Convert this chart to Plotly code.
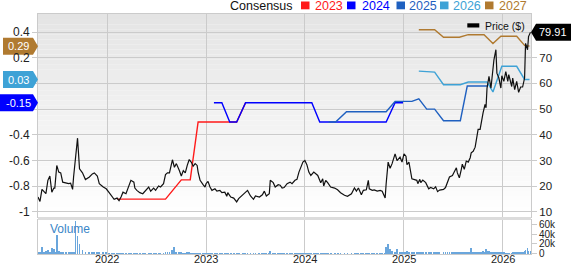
import datetime as dt
import plotly.graph_objects as go

# ---------------- data ----------------
price_t = [
 2021.30,2021.32,2021.34,2021.36,2021.38,2021.40,2021.42,2021.44,2021.46,2021.47,
 2021.49,2021.51,2021.53,2021.55,2021.58,2021.61,2021.63,2021.65,2021.66,2021.68,
 2021.70,2021.72,2021.75,2021.78,2021.82,2021.85,2021.87,2021.90,2021.92,2021.96,
 2021.99,2022.02,2022.05,2022.07,2022.10,2022.12,2022.14,2022.16,2022.19,2022.22,
 2022.24,2022.27,2022.28,
 2022.30,2022.33,2022.36,2022.38,2022.42,2022.44,2022.47,2022.49,2022.52,2022.54,
 2022.57,2022.59,2022.61,2022.63,2022.65,2022.66,2022.68,2022.70,2022.73,2022.75,
 2022.77,2022.79,2022.81,2022.83,2022.85,2022.87,2022.89,2022.91,2022.92,2022.94,
 2022.97,2022.99,2023.00,2023.02,2023.04,2023.06,2023.09,2023.11,2023.14,2023.16,
 2023.19,2023.21,2023.22,
 2023.25,2023.28,2023.31,2023.33,2023.37,2023.39,2023.42,2023.45,2023.48,2023.50,
 2023.54,2023.57,2023.59,2023.61,2023.64,2023.65,2023.68,2023.70,2023.73,2023.75,
 2023.77,2023.79,2023.82,2023.85,2023.87,2023.90,2023.92,2023.94,2023.96,2023.98,
 2024.00,2024.02,2024.04,2024.06,2024.09,2024.11,2024.13,
 2024.16,2024.18,2024.19,2024.21,2024.23,2024.26,2024.30,2024.33,2024.36,2024.40,
 2024.43,2024.47,2024.50,2024.52,2024.54,2024.57,2024.59,2024.62,2024.64,2024.65,
 2024.68,2024.70,2024.73,2024.76,2024.78,2024.81,2024.82,2024.84,2024.86,2024.88,
 2024.91,2024.93,2024.96,2024.98,2025.00,2025.02,2025.03,2025.05,2025.08,2025.10,
 2025.13,2025.14,2025.16,
 2025.17,2025.19,2025.22,2025.25,2025.27,2025.30,2025.32,2025.34,2025.36,2025.40,
 2025.42,2025.44,2025.46,2025.49,2025.51,2025.53,2025.54,2025.56,2025.58,2025.59,
 2025.61,2025.63,2025.65,2025.67,2025.68,2025.70,2025.72,2025.73,2025.75,2025.77,
 2025.78,2025.80,2025.82,2025.83,2025.84,2025.86,2025.88,2025.90,2025.91,2025.93,
 2025.94,2025.96,2025.98,2025.99,2026.01,2026.03,2026.05,2026.06,2026.09,2026.10,
 2026.12,2026.14,2026.16,2026.18,2026.20,2026.22,2026.23,2026.25,2026.26,2026.28,
]
price = [
 15.8,14.1,18.8,17.7,17.1,22.3,24.0,17.7,19.3,19.3,
 28.1,25.5,25.2,21.6,21.4,21.0,21.2,18.8,23.6,31.3,
 38.7,26.8,25.2,22.6,23.6,24.8,25.2,24.0,21.0,19.7,
 19.0,17.5,15.8,14.9,15.4,14.4,15.8,17.7,17.1,20.6,
 22.3,21.6,19.3,
 18.4,17.5,17.1,18.1,19.7,18.1,19.3,18.4,20.1,19.7,
 21.0,24.5,25.2,25.2,28.8,30.3,27.4,28.8,26.1,24.0,
 26.1,25.2,28.1,30.4,29.4,27.8,28.8,28.1,25.5,22.3,
 20.6,19.7,21.0,21.9,19.7,18.4,19.0,18.1,18.4,17.5,
 17.7,16.1,17.5,
 15.8,15.4,13.9,15.2,16.5,17.1,18.4,16.2,14.9,16.2,
 15.8,16.7,18.1,16.2,17.1,22.3,21.4,19.7,20.6,20.4,
 19.3,19.5,21.0,21.6,21.0,22.3,22.7,25.5,27.8,29.4,
 30.0,28.4,25.5,24.2,25.5,24.8,24.2,
 21.4,22.9,20.1,22.3,21.4,19.7,19.3,18.6,17.5,16.5,
 16.1,17.1,19.3,18.1,19.3,16.7,18.4,18.6,22.3,19.0,
 18.4,18.6,18.1,18.4,18.1,15.4,21.0,29.4,27.0,28.8,
 32.6,30.0,31.3,29.4,32.6,31.7,28.4,29.4,22.9,22.7,
 22.3,21.0,22.7,
 21.4,22.4,21.4,19.0,19.5,19.0,19.8,17.9,18.5,18.8,
 19.5,22.0,23.6,24.2,25.9,27.2,25.2,23.3,26.6,28.6,
 26.6,29.8,29.4,31.1,33.0,33.6,35.2,38.2,42.1,42.1,
 44.6,48.5,51.8,50.5,58.2,62.7,58.2,64.6,69.2,73.1,
 64.0,62.1,58.2,63.0,60.8,64.6,60.8,63.4,58.8,62.1,
 57.6,60.8,56.5,58.6,58.6,62.1,75.6,73.1,78.2,79.91,
]
volume_k = [
 4,3,14,4,5,7,4,12,9,4,
 38,5,4,3,3,2,2,2,3,67,
 36,19,7,4,3,3,2,2,2,3,
 2,1.5,1.5,1,1,1.5,1,1,1.5,1,
 1,1,1,
 1,1,1,1,1,1,1,1,1,1,
 1.5,2,2,2,5,7,13,3,2,2,
 1.5,1.5,2,2,1.5,1.5,1,1,1,1,
 1,1,1,1,0.8,0.8,0.8,0.8,0.8,0.8,
 0.8,0.8,0.8,
 0.8,0.8,0.8,0.8,0.8,0.8,0.8,0.8,0.8,0.8,
 0.8,0.8,1,0.8,1,5,1.5,1,0.8,0.8,
 0.8,0.8,0.8,0.8,0.8,0.8,0.8,1,1,1,
 1,0.8,0.8,0.8,0.8,0.8,0.8,
 0.8,0.8,0.8,0.8,0.8,0.8,0.8,0.8,0.8,0.8,
 0.8,0.8,0.8,0.8,0.8,0.8,0.8,0.8,1.5,1,
 0.8,0.8,0.8,1,1,1.5,14,20,9,5,
 4,10,4,3,3,4,6,3,3,2.5,
 2.5,2,3,
 4,3,3,3.5,3,3,2.5,2,2,2,
 2,2,2,2,2,2,2.5,2,2.5,2.5,
 3,2.5,3,3,11,4,3,4,3,4,
 4,5,4,10,6,5,4,3,3,3,
 3,2,2,2,2,1.5,1.5,1.5,1.5,2,
 2,2,3,3,4,5,7,12,5,6,
]

eps2023_t = [2022.10, 2022.59, 2022.75, 2022.84, 2022.92, 2023.31, 2023.40]
eps2023 = [-0.90, -0.90, -0.75, -0.75, -0.30, -0.30, -0.15]
eps2024_t = [2023.08, 2023.16, 2023.24, 2023.31, 2023.40, 2024.07, 2024.15, 2024.82, 2024.91, 2024.99]
eps2024 = [-0.15, -0.15, -0.30, -0.30, -0.15, -0.15, -0.30, -0.30, -0.15, -0.15]
eps2025_t = [2024.24, 2024.31, 2024.42, 2024.82, 2024.91, 2025.08, 2025.15, 2025.23, 2025.31, 2025.40, 2025.57, 2025.64, 2025.85]
eps2025 = [-0.30, -0.30, -0.22, -0.22, -0.14, -0.14, -0.12, -0.20, -0.20, -0.29, -0.29, -0.02, -0.02]
eps2026_t = [2025.15, 2025.31, 2025.40, 2025.57, 2025.65, 2025.84, 2025.90, 2025.99, 2026.14, 2026.22, 2026.27]
eps2026 = [0.096, 0.088, -0.01, -0.01, 0.011, 0.011, -0.066, 0.133, 0.133, 0.031, 0.03]
eps2027_t = [2025.15, 2025.31, 2025.40, 2025.56, 2025.65, 2025.81, 2025.90, 2025.98, 2026.14, 2026.22, 2026.27]
eps2027 = [0.418, 0.418, 0.359, 0.359, 0.379, 0.379, 0.311, 0.367, 0.367, 0.296, 0.29]

eps_ticks = [0.4, 0.2, 0, -0.2, -0.4, -0.6, -0.8, -1]
eps_ticktext = ["0.4", "0.2", "", "", "-0.4", "-0.6", "-0.8", "-1"]
price_ticks = [10, 20, 30, 40, 50, 60, 70]
vol_ticks = [0, 20, 40, 60]
vol_ticktext = ["0", "20k", "40k", "60k"]
x_years = [2022, 2023, 2024, 2025, 2026]
years = ["2023", "2024", "2025", "2026", "2027"]
year_colors = ["#ff1a1a", "#0000ff", "#1f60c0", "#3ea2d6", "#b07a30"]
current_labels = [(0.29, "0.29", "#b07a30"), (0.03, "0.03", "#3ea2d6"), (-0.15, "-0.15", "#0000ff")]
last_price = 79.91


def dy(t):
    y = int(t)
    a = dt.datetime(y, 1, 1)
    b = dt.datetime(y + 1, 1, 1)
    return a + (b - a) * (t - y)

# ---------------- layout geometry ----------------
FW, FH = 571, 264
L, R, T, B = 38, 40, 14, 10
W, H = FW - L - R, FH - T - B

def px(x):
    return (x - L) / W

def py(y):
    return (FH - B - y) / H

MAIN_BOTTOM, VOL_TOP = 217, 220
FONT = "Liberation Sans, Arial, sans-serif"
GRID = "#cbcbcb"

fig = go.Figure()

series = [(eps2023_t, eps2023), (eps2024_t, eps2024), (eps2025_t, eps2025),
          (eps2026_t, eps2026), (eps2027_t, eps2027)]
for (tt, vv), col in zip(series, year_colors):
    fig.add_trace(go.Scatter(x=[dy(t) for t in tt], y=vv, mode="lines",
                             line=dict(color=col, width=1.4), yaxis="y",
                             hoverinfo="skip"))

fig.add_trace(go.Scatter(x=[dy(t) for t in price_t], y=price, mode="lines",
                         line=dict(color="#111111", width=1.2), yaxis="y2",
                         hoverinfo="skip"))

fig.add_trace(go.Bar(x=[dy(t) for t in price_t], y=volume_k, yaxis="y3",
                     marker=dict(color="#6aa6dc", line=dict(width=0)),
                     width=3.2 * 86400000, hoverinfo="skip"))

shapes = []
# gradient background of main panel
n = 40
for i in range(n):
    y0 = T + (MAIN_BOTTOM - T) * i / n
    y1 = T + (MAIN_BOTTOM - T) * (i + 1) / n
    c = int(round(228 + (255 - 228) * (i + 0.5) / n))
    shapes.append(dict(type="rect", xref="paper", yref="paper", x0=0, x1=1,
                       y0=py(y1), y1=py(y0), fillcolor=f"rgb({c},{c},{c})",
                       line=dict(width=0), layer="below"))
# separator band
shapes.append(dict(type="rect", xref="paper", yref="paper", x0=0, x1=1,
                   y0=py(VOL_TOP), y1=py(MAIN_BOTTOM), fillcolor="#dcdcdc",
                   line=dict(width=0), layer="above"))
# left value tags
for val, txt, col in current_labels:
    start = -38 if txt.startswith("-") else -35
    shapes.append(dict(type="path", xref="paper", yref="y", xsizemode="pixel",
                       ysizemode="pixel", xanchor=0, yanchor=val,
                       path=f"M {start},-8.5 L -5,-8.5 L 0,0 L -5,8.5 L {start},8.5 Z",
                       fillcolor=col, line=dict(width=0), layer="above"))
# price tag
shapes.append(dict(type="path", xref="paper", yref="y2", xsizemode="pixel",
                   ysizemode="pixel", xanchor=1, yanchor=last_price,
                   path="M 0,0 L 5,-8.5 L 40,-8.5 L 40,8.5 L 5,8.5 Z",
                   fillcolor="#000000", line=dict(width=0), layer="above"))
# legend squares
sq_x = [301, 347, 396.5, 440, 485]
for x0, col in zip(sq_x, year_colors):
    shapes.append(dict(type="rect", xref="paper", yref="paper",
                       x0=px(x0), x1=px(x0 + 8.5), y0=py(9.3), y1=py(1.5),
                       fillcolor=col, line=dict(width=0)))
# price legend swatch
shapes.append(dict(type="rect", xref="paper", yref="paper",
                   x0=px(467.3), x1=px(479.3), y0=py(27.5), y1=py(23.3),
                   fillcolor="#000000", line=dict(width=0)))

ann = []
# left EPS tick labels (non-empty ones)
for v, s in zip(eps_ticks, eps_ticktext):
    if s:
        ann.append(dict(text=s, xref="paper", yref="y", x=px(30.5), y=v,
                        xanchor="right", yanchor="middle", showarrow=False,
                        borderpad=0, font=dict(family=FONT, size=12, color="#222222")))
ann.append(dict(text="Consensus", xref="paper", yref="paper", x=px(227.5), y=py(5.6),
                xanchor="left", yanchor="middle", showarrow=False,
                font=dict(family=FONT, size=12.5, color="#111111")))
txt_x = [313.3, 360, 407.3, 451, 496.5]
for x0, yr, col in zip(txt_x, years, year_colors):
    ann.append(dict(text=yr, xref="paper", yref="paper", x=px(x0), y=py(5.6),
                    xanchor="left", yanchor="middle", showarrow=False,
                    font=dict(family=FONT, size=12.5, color=col)))
ann.append(dict(text="Price ($)", xref="paper", yref="paper", x=px(482.5), y=py(25.5),
                xanchor="left", yanchor="middle", showarrow=False,
                font=dict(family=FONT, size=10.5, color="#111111")))
ann.append(dict(text="Volume", xref="paper", yref="paper", x=px(47.5), y=py(229),
                xanchor="left", yanchor="middle", showarrow=False,
                font=dict(family=FONT, size=12, color="#3a86c8")))
for val, txt, col in current_labels:
    ann.append(dict(text=txt, xref="paper", yref="y", x=px(18), y=val,
                    xanchor="center", yanchor="middle", showarrow=False,
                    font=dict(family=FONT, size=11, color="#ffffff")))
ann.append(dict(text=f"{last_price:.2f}", xref="paper", yref="y2", x=px(552.5), y=last_price,
                xanchor="center", yanchor="middle", showarrow=False,
                font=dict(family=FONT, size=11, color="#ffffff")))
# x-axis year labels (placed just below the volume panel)
for yv in x_years:
    ann.append(dict(text=str(yv), xref="x", yref="paper", x=dt.datetime(yv, 1, 1),
                    y=py(259.2), xanchor="center", yanchor="middle", showarrow=False,
                    borderpad=0, font=dict(family=FONT, size=11, color="#222222")))

main_dom = [py(MAIN_BOTTOM), 1]
vol_dom = [0, py(VOL_TOP)]

fig.update_layout(
    template="none",
    width=FW, height=FH,
    margin=dict(l=L, r=R, t=T, b=B, pad=0, autoexpand=False),
    paper_bgcolor="#ffffff", plot_bgcolor="rgba(0,0,0,0)",
    showlegend=False, hovermode=False, bargap=0,
    font=dict(family=FONT, size=11, color="#222222"),
    shapes=shapes, annotations=ann,
    xaxis=dict(type="date", range=[dy(2021.30), dy(2026.285)], anchor="y3",
               tickvals=[dt.datetime(y, 1, 1) for y in x_years],
               showticklabels=False,
               showgrid=True, gridcolor=GRID, gridwidth=1, automargin=False,
               showline=True, linecolor=GRID, mirror="all",
               ticks="", zeroline=False),
    yaxis=dict(domain=main_dom, range=[-1.039, 0.540], tickvals=eps_ticks,
               showticklabels=False, showgrid=True, gridcolor=GRID, gridwidth=1,
               zeroline=False, showline=True, linecolor=GRID, mirror=True,
               ticks="outside", ticklen=5, tickcolor=GRID, automargin=False),
    yaxis2=dict(overlaying="y", side="right", range=[8.04, 87.0],
                tickvals=price_ticks, showgrid=False, zeroline=False,
                ticks="outside", ticklen=5, tickcolor=GRID, automargin=False,
                tickfont=dict(size=11.5, color="#222222")),
    yaxis3=dict(domain=vol_dom, side="right", range=[-0.5, 69],
                tickvals=vol_ticks, ticktext=vol_ticktext, showgrid=False,
                zeroline=False, showline=True, linecolor=GRID, mirror=True,
                ticks="outside", ticklen=5, tickcolor=GRID, automargin=False,
                tickfont=dict(size=10, color="#222222")),
)

fig.write_html("out.html")
